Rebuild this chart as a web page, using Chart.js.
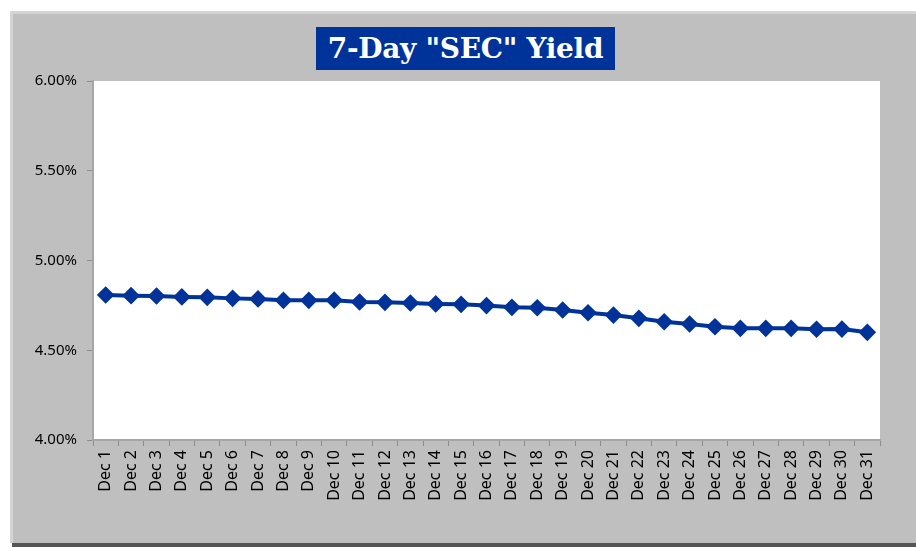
<!DOCTYPE html>
<html>
<head>
  <meta charset="UTF-8" />
  <title>7-Day SEC Yield</title>
  <script src="https://cdn.jsdelivr.net/npm/chart.js"></script>
  <style>
    html, body {
      margin: 0;
      padding: 0;
      background: #ffffff;
    }
    #wrap {
      position: relative;
      width: 916px;
      height: 550px;
    }
    #yieldChart {
      position: absolute;
      left: 0;
      top: 0;
    }
    #title {
      position: absolute;
      left: 316px;
      top: 27px;
      width: 299px;
      height: 43px;
      line-height: 43px;
      background: #003399;
      color: #ffffff;
      font-family: 'DejaVu Serif', serif;
      font-weight: bold;
      font-size: 28px;
      letter-spacing: -0.3px;
      text-align: center;
      white-space: nowrap;
    }
  </style>
</head>
<body>
  <div id="wrap">
    <canvas id="yieldChart" width="916" height="550"></canvas>
    <div id="title">7-Day "SEC" Yield</div>
  </div>

  <script>
    const days = [
      'Dec 1', 'Dec 2', 'Dec 3', 'Dec 4', 'Dec 5', 'Dec 6', 'Dec 7', 'Dec 8',
      'Dec 9', 'Dec 10', 'Dec 11', 'Dec 12', 'Dec 13', 'Dec 14', 'Dec 15', 'Dec 16',
      'Dec 17', 'Dec 18', 'Dec 19', 'Dec 20', 'Dec 21', 'Dec 22', 'Dec 23', 'Dec 24',
      'Dec 25', 'Dec 26', 'Dec 27', 'Dec 28', 'Dec 29', 'Dec 30', 'Dec 31'
    ];
    // yield in percent
    const yields = [
      4.808, 4.804, 4.802, 4.797, 4.795, 4.789, 4.786, 4.778,
      4.778, 4.779, 4.769, 4.767, 4.763, 4.758, 4.756, 4.749,
      4.739, 4.737, 4.724, 4.709, 4.696, 4.678, 4.659, 4.646,
      4.631, 4.622, 4.622, 4.622, 4.617, 4.618, 4.600
    ];
    const yMin = 4.0;
    const yMax = 6.0;
    const yStep = 0.5;

    // grey frame, shadow and white plot area
    const framePlugin = {
      id: 'frame',
      beforeDraw(chart) {
        const ctx = chart.ctx;
        const a = chart.chartArea;
        ctx.save();
        ctx.fillStyle = '#ffffff';
        ctx.fillRect(0, 0, chart.width, chart.height);
        // shadow
        ctx.fillStyle = '#555555';
        ctx.fillRect(12, 540, chart.width - 12, 7);
        ctx.fillStyle = '#bfbfbf';
        ctx.fillRect(10, 11, chart.width - 10, 532);
        ctx.fillStyle = '#d4d4d4';
        ctx.fillRect(10, 11, chart.width - 10, 3);
        ctx.fillRect(10, 11, 3, 532);
        ctx.fillStyle = '#ffffff';
        ctx.fillRect(a.left, a.top, a.right - a.left, a.bottom - a.top);
        ctx.restore();
      }
    };

    const ctx = document.getElementById('yieldChart').getContext('2d');
    const yieldChart = new Chart(ctx, {
      type: 'line',
      data: {
        labels: days,
        datasets: [{
          data: yields,
          borderColor: '#003399',
          backgroundColor: '#003399',
          borderWidth: 4,
          pointStyle: 'rectRot',
          pointRadius: 6,
          pointHoverRadius: 6,
          tension: 0
        }]
      },
      options: {
        responsive: false,
        animation: false,
        layout: {
          padding: { left: 12, right: 36, top: 81, bottom: 6 }
        },
        plugins: {
          legend: { display: false },
          tooltip: { enabled: false }
        },
        scales: {
          x: {
            offset: true,
            grid: {
              offset: true,
              drawOnChartArea: false,
              tickLength: 6,
              color: '#8c8c8c'
            },
            border: { color: '#a6a6a6', width: 2 },
            ticks: {
              maxRotation: 90,
              minRotation: 90,
              autoSkip: false,
              color: '#000000',
              padding: 4,
              font: { family: "'Noto Sans', sans-serif", size: 16 }
            },
            afterFit(scale) { scale.height = 104; }
          },
          y: {
            min: yMin,
            max: yMax,
            grid: {
              drawOnChartArea: false,
              tickLength: 6,
              color: '#8c8c8c'
            },
            border: { color: '#a6a6a6', width: 2 },
            ticks: {
              stepSize: yStep,
              color: '#000000',
              padding: 10,
              font: { family: "'Noto Sans', sans-serif", size: 15 },
              callback: v => v.toFixed(2) + '%'
            },
            afterFit(scale) { scale.width = 81; }
          }
        }
      },
      plugins: [framePlugin]
    });
  </script>
</body>
</html>
